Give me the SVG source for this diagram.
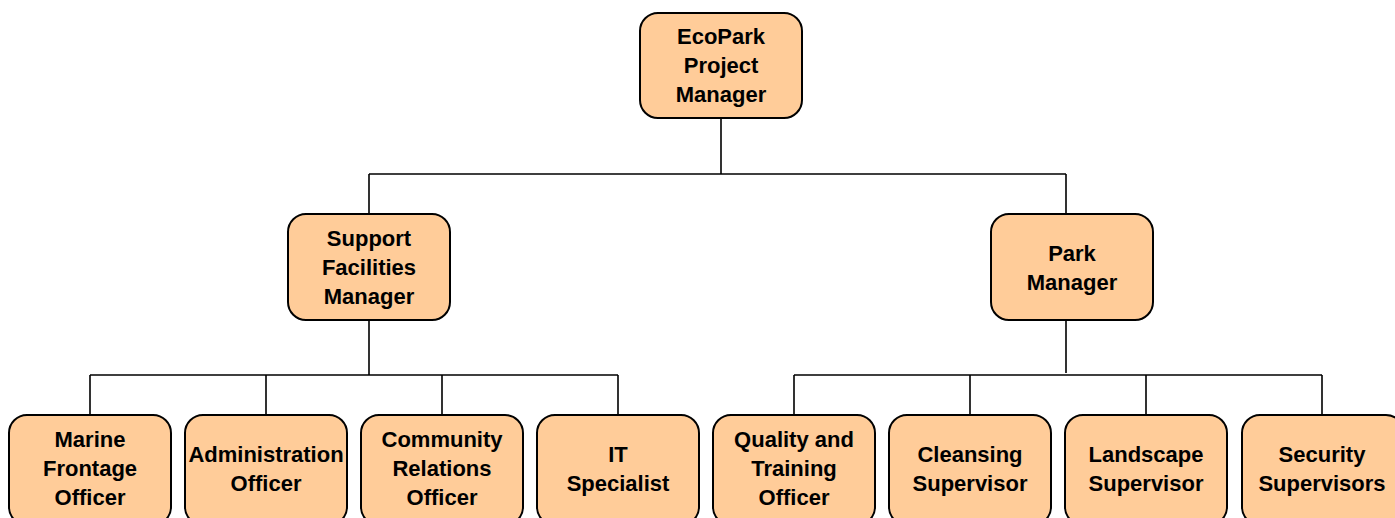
<svg xmlns="http://www.w3.org/2000/svg" width="1395" height="518" viewBox="0 0 1395 518">
<style>
.box{fill:#FFCC99;stroke:#000;stroke-width:2}
.t{font-family:"Liberation Sans",Arial,sans-serif;font-weight:bold;font-size:22px;text-anchor:middle;fill:#000}
.c{stroke:#000;stroke-width:1.6;fill:none}
</style>
<rect width="1395" height="518" fill="#fff"/>
<g id="connectors">
<path class="c" d="M721 118V174M369 174H1066M369 174V214M1066 174V214"/>
<path class="c" d="M369 320V375M90 375H618M90 375V415M266 375V415M442 375V415M618 375V415"/>
<path class="c" d="M1066 320V373M794 375H1322M794 375V415M970 375V415M1146 375V415M1322 375V415"/>
</g>
<g id="n-top"><rect class="box" x="640" y="13" width="162" height="105" rx="18"/>
<text class="t" x="721" y="44">EcoPark</text><text class="t" x="721" y="73">Project</text><text class="t" x="721" y="102">Manager</text></g>
<g id="n-support"><rect class="box" x="288" y="214" width="162" height="106" rx="18"/>
<text class="t" x="369" y="246">Support</text><text class="t" x="369" y="275">Facilities</text><text class="t" x="369" y="304">Manager</text></g>
<g id="n-park"><rect class="box" x="991" y="214" width="162" height="106" rx="18"/>
<text class="t" x="1072" y="261">Park</text><text class="t" x="1072" y="290">Manager</text></g>
<g id="n-marine"><rect class="box" x="9" y="415" width="162" height="110" rx="18"/>
<text class="t" x="90" y="447">Marine</text><text class="t" x="90" y="476">Frontage</text><text class="t" x="90" y="505">Officer</text></g>
<g id="n-admin"><rect class="box" x="185" y="415" width="162" height="110" rx="18"/>
<text class="t" x="266" y="462">Administration</text><text class="t" x="266" y="491">Officer</text></g>
<g id="n-community"><rect class="box" x="361" y="415" width="162" height="110" rx="18"/>
<text class="t" x="442" y="447">Community</text><text class="t" x="442" y="476">Relations</text><text class="t" x="442" y="505">Officer</text></g>
<g id="n-it"><rect class="box" x="537" y="415" width="162" height="110" rx="18"/>
<text class="t" x="618" y="462">IT</text><text class="t" x="618" y="491">Specialist</text></g>
<g id="n-quality"><rect class="box" x="713" y="415" width="162" height="110" rx="18"/>
<text class="t" x="794" y="447">Quality and</text><text class="t" x="794" y="476">Training</text><text class="t" x="794" y="505">Officer</text></g>
<g id="n-cleansing"><rect class="box" x="889" y="415" width="162" height="110" rx="18"/>
<text class="t" x="970" y="462">Cleansing</text><text class="t" x="970" y="491">Supervisor</text></g>
<g id="n-landscape"><rect class="box" x="1065" y="415" width="162" height="110" rx="18"/>
<text class="t" x="1146" y="462">Landscape</text><text class="t" x="1146" y="491">Supervisor</text></g>
<g id="n-security"><rect class="box" x="1242" y="415" width="162" height="110" rx="18"/>
<text class="t" x="1322" y="462">Security</text><text class="t" x="1322" y="491">Supervisors</text></g>
</svg>
